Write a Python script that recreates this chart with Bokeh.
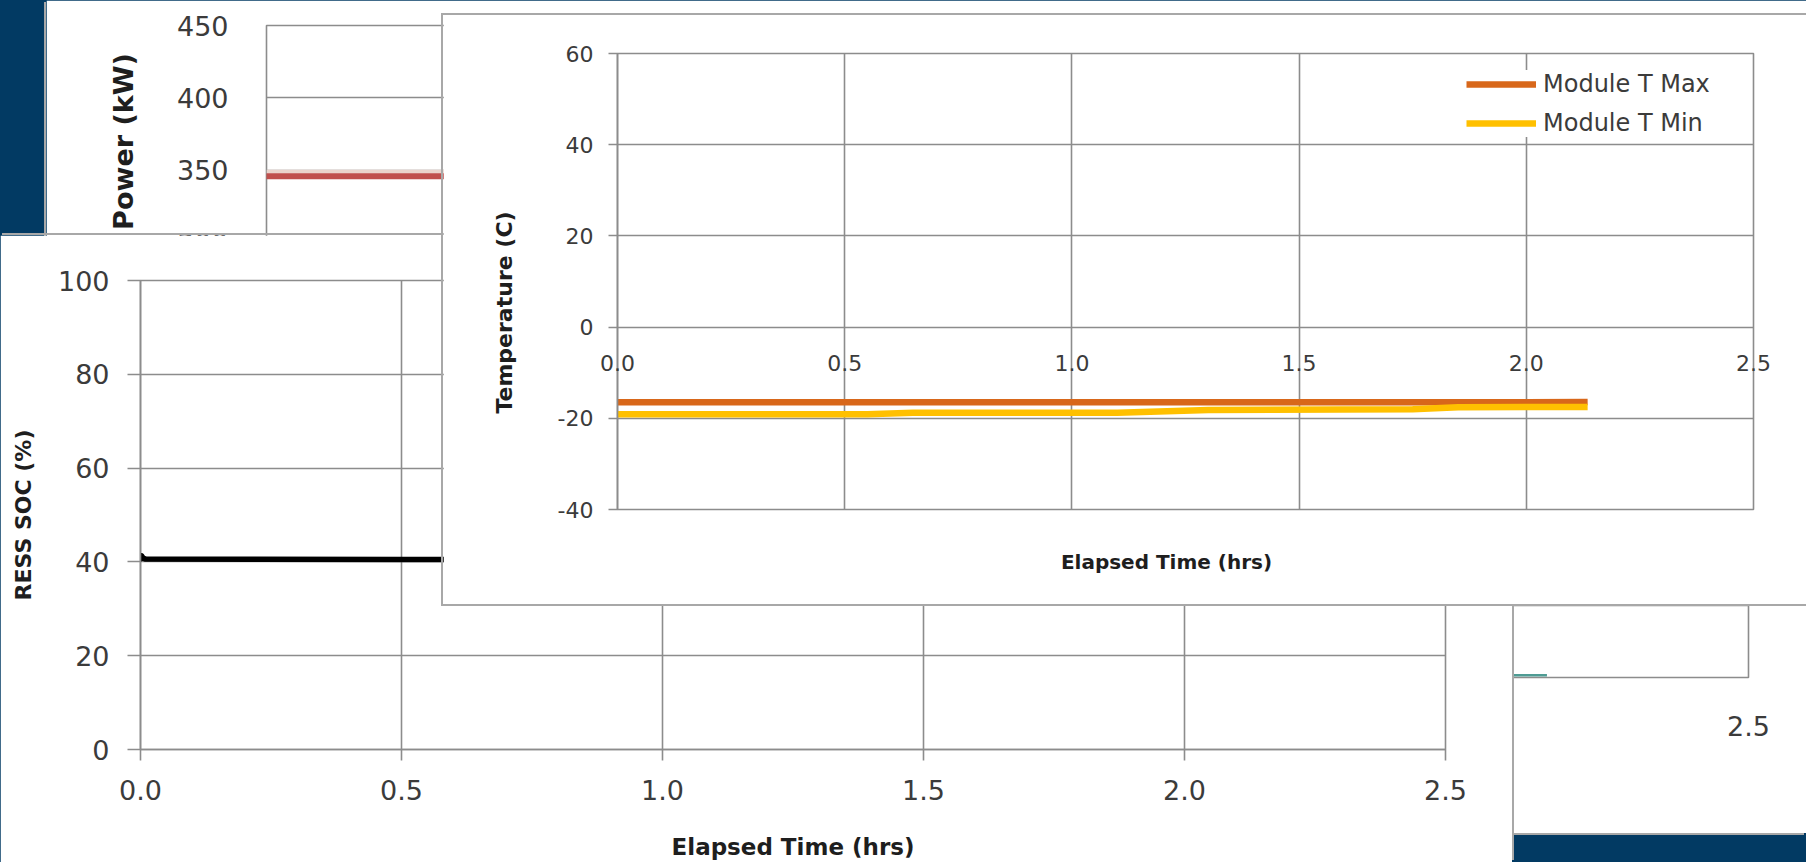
from bokeh.plotting import figure
from bokeh.models import (FixedTicker, NumeralTickFormatter, Legend,
                          LegendItem, Range1d)
from bokeh.embed import file_html
from bokeh.resources import INLINE

# ---------------- data ----------------
x_ticks = [0.0, 0.5, 1.0, 1.5, 2.0, 2.5]
power_y_ticks = [0, 50, 100, 150, 200, 250, 300, 350, 400, 450]
soc_y_ticks = [0, 20, 40, 60, 80, 100]
temp_y_ticks = [-40, -20, 0, 20, 40, 60]

power_time = [0.0, 0.5, 1.0, 1.5, 2.0, 2.14]
power_kw = [346, 346, 346, 346, 346, 346]
power_ref_kw = [349, 349, 349, 349, 349, 349]
aux_time = [0.0, 1.0, 2.10, 2.16]
aux_kw = [1.5, 1.5, 1.5, 1.5]

soc_time = [0.0, 0.01, 0.5, 1.0, 1.5, 2.0, 2.14]
soc_pct = [41.0, 40.6, 40.5, 40.5, 40.4, 40.4, 40.4]

temp_max_time = [0.0, 0.5, 1.0, 1.5, 2.0, 2.135]
temp_max = [-16.5, -16.5, -16.5, -16.5, -16.5, -16.4]
temp_min_time = [0.0, 0.55, 0.65, 1.1, 1.3, 1.75, 1.85, 2.135]
temp_min = [-19.1, -19.1, -18.8, -18.8, -18.2, -18.0, -17.6, -17.5]

# ---------------- style ----------------
FONT = "DejaVu Sans"
GRID = "#8c8c8c"
TICK_TXT = "#3b3b3b"
TITLE_TXT = "#1e1e1e"
NAVY = "#023a63"
EDGE = "#a8a8a8"
MAXC = "#d8671a"
MINC = "#ffc000"


def place(left, top, z, extra=None):
    st = {"position": "absolute", "left": f"{left}px", "top": f"{top}px",
          "z-index": str(z)}
    if extra:
        st.update(extra)
    return st


def make_fig(w, h, xr, yr, ml, mr, mt, mb, styles, transparent=False):
    kw = dict(background_fill_color="white", border_fill_color="white",
              outline_line_color=GRID, outline_line_width=1.6)
    if transparent:
        kw = dict(background_fill_color=None, border_fill_color=None,
                  outline_line_color=None)
    p = figure(width=w, height=h, x_range=xr, y_range=yr,
               toolbar_location=None, output_backend="svg",
               min_border_left=ml, min_border_right=mr,
               min_border_top=mt, min_border_bottom=mb,
               styles=styles, **kw)
    for ax in p.axis:
        ax.major_label_text_font = FONT
        ax.major_label_text_color = TICK_TXT
        ax.minor_tick_line_color = None
        ax.axis_label_text_font = FONT
        ax.axis_label_text_font_style = "bold"
        ax.axis_label_text_color = TITLE_TXT
    for g in p.grid:
        g.grid_line_color = GRID
        g.grid_line_width = 1.6
    return p


def bare_axis(ax):
    ax.ticker = FixedTicker(ticks=[])
    ax.axis_line_color = None
    ax.major_tick_line_color = None
    ax.major_tick_out = 0
    ax.major_tick_in = 0
    ax.major_label_standoff = 0


# ---------------- background ----------------
bg = figure(width=1808, height=864, x_range=Range1d(0, 1), y_range=Range1d(0, 1),
            toolbar_location=None, output_backend="svg",
            background_fill_color=NAVY, border_fill_color=NAVY,
            outline_line_color=None, min_border=0,
            styles=place(-2, -2, 0, {"background-color": NAVY}))
bg.axis.visible = False
bg.grid.visible = False

# ---------------- power panel ----------------
pw = make_fig(1760, 833, Range1d(0, 2.5), Range1d(0, 450), 220, 58, 25, 156,
              place(46, 0, 1, {"box-shadow": "-2px 2px 0 0 " + EDGE}))
pw.xgrid.visible = False
pw.yaxis.ticker = FixedTicker(ticks=power_y_ticks)
pw.yaxis.axis_line_color = None
pw.yaxis.major_tick_line_color = None
pw.yaxis.major_tick_out = 0
pw.yaxis.major_label_text_font_size = "27px"
pw.yaxis.major_label_standoff = 38
pw.xaxis.ticker = FixedTicker(ticks=x_ticks)
pw.xaxis.formatter = NumeralTickFormatter(format="0.0")
pw.xaxis.axis_line_color = None
pw.xaxis.major_tick_line_color = None
pw.xaxis.major_tick_out = 0
pw.xaxis.major_label_text_font_size = "27px"
pw.xaxis.major_label_standoff = 38
pw.line(aux_time, aux_kw, line_color="#4f9c94", line_width=2.5)
pw.line(power_time, power_ref_kw, line_color="#ead4cc", line_width=4)
pw.line(power_time, power_kw, line_color="#c0504d", line_width=6, line_cap="round")

# power axis title layer (title sits above the frame centre, as in the source)
pw_t = make_fig(300, 300, Range1d(0, 1), Range1d(0, 1), 220, 40, 25, 43,
                place(46, 0, 2), transparent=True)
pw_t.grid.visible = False
pw_t.xaxis.visible = False
bare_axis(pw_t.yaxis)
pw_t.yaxis.axis_label = "Power (kW)"
pw_t.yaxis.axis_label_text_font_size = "27px"
pw_t.yaxis.axis_label_standoff = 128

# ---------------- SOC panel ----------------
soc = make_fig(1512, 627, Range1d(0, 2.5), Range1d(0, 100), 140, 67, 45, 112,
               place(0, 235, 3, {"box-shadow": "2px -2px 0 0 " + EDGE}))
soc.yaxis.ticker = FixedTicker(ticks=soc_y_ticks)
soc.xaxis.ticker = FixedTicker(ticks=x_ticks)
soc.xaxis.formatter = NumeralTickFormatter(format="0.0")
for ax in soc.axis:
    ax.axis_line_color = GRID
    ax.axis_line_width = 1.6
    ax.major_tick_line_color = GRID
    ax.major_tick_line_width = 1.6
    ax.major_tick_in = 0
    ax.major_label_text_font_size = "27px"
soc.yaxis.major_tick_out = 13
soc.yaxis.major_label_standoff = 18
soc.yaxis.axis_label = "RESS SOC (%)"
soc.yaxis.axis_label_text_font_size = "22px"
soc.yaxis.axis_label_standoff = 19
soc.xaxis.major_tick_out = 11
soc.xaxis.major_label_standoff = 19
soc.xaxis.axis_label = "Elapsed Time (hrs)"
soc.xaxis.axis_label_text_font_size = "23px"
soc.xaxis.axis_label_standoff = 31
soc.line(soc_time, soc_pct, line_color="black", line_width=5.5, line_cap="round")
soc.scatter(soc_time[:1], soc_pct[:1], size=8, color="black")

# ---------------- temperature panel ----------------
tp = make_fig(1363, 589, Range1d(0, 2.5), Range1d(-40, 60), 174, 53, 38, 95,
              place(443, 15, 4, {"box-shadow": "0 0 0 2px " + EDGE}))
tp.yaxis.ticker = FixedTicker(ticks=temp_y_ticks)
tp.yaxis.formatter = NumeralTickFormatter(format="0")
tp.yaxis.axis_line_color = GRID
tp.yaxis.axis_line_width = 1.6
tp.yaxis.major_tick_line_color = GRID
tp.yaxis.major_tick_line_width = 1.6
tp.yaxis.major_tick_in = 0
tp.yaxis.major_tick_out = 9
tp.yaxis.major_label_text_font_size = "22px"
tp.yaxis.major_label_standoff = 15
tp.xaxis.ticker = FixedTicker(ticks=x_ticks)
tp.xgrid.ticker = FixedTicker(ticks=x_ticks)
tp.xaxis.visible = False

r_max = tp.line(temp_max_time, temp_max, line_color=MAXC, line_width=6.5)
r_min = tp.line(temp_min_time, temp_min, line_color=MINC, line_width=6.5)

legend = Legend(items=[LegendItem(label="Module T Max", renderers=[r_max]),
                       LegendItem(label="Module T Min", renderers=[r_min])],
                location=(849, 372), orientation="vertical",
                glyph_width=70, glyph_height=26, label_height=26,
                label_standoff=7, spacing=11, padding=10, margin=0,
                border_line_color=None, background_fill_color="white",
                background_fill_alpha=1.0,
                label_text_font=FONT, label_text_font_size="24px",
                label_text_color=TICK_TXT)
tp.add_layout(legend)

# temperature label layer: x tick labels sit next to the 0 line,
# the titles sit where the source puts them
TEMP_PX_PER_HR = 454.4
tl = make_fig(1363, 589, Range1d(-(617 - 579) / TEMP_PX_PER_HR, 2.5), Range1d(0, 1),
              136, 53, 282, 277, place(443, 15, 5), transparent=True)
tl.grid.visible = False
tl.xaxis.ticker = FixedTicker(ticks=x_ticks)
tl.xaxis.formatter = NumeralTickFormatter(format="0.0")
tl.xaxis.axis_line_color = None
tl.xaxis.major_tick_line_color = None
tl.xaxis.major_tick_out = 0
tl.xaxis.major_tick_in = 0
tl.xaxis.major_label_text_font_size = "22px"
tl.xaxis.major_label_standoff = 27
tl.xaxis.axis_label = "Elapsed Time (hrs)"
tl.xaxis.axis_label_text_font_size = "20px"
tl.xaxis.axis_label_standoff = 176
bare_axis(tl.yaxis)
tl.yaxis.axis_label = "Temperature (C)"
tl.yaxis.axis_label_text_font_size = "22px"
tl.yaxis.axis_label_standoff = 63

roots = [bg, pw, pw_t, soc, tp, tl]
open("out.html", "w").write(file_html(roots, INLINE))
